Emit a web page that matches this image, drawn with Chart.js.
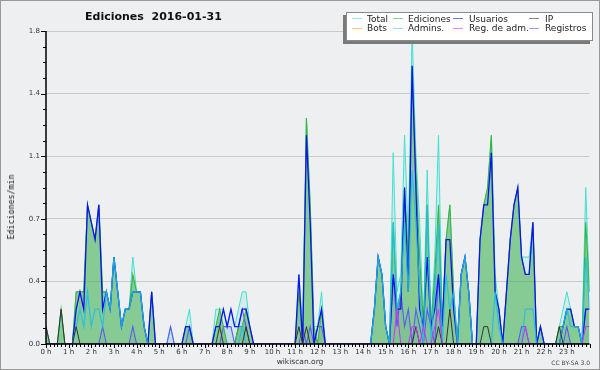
<!DOCTYPE html>
<html>
<head>
<meta charset="utf-8">
<script src="https://cdn.jsdelivr.net/npm/chart.js@4.4.0/dist/chart.umd.min.js"></script>
<style>
  body { margin: 0; }
  #wrap { position: relative; width: 600px; height: 370px; background: #edeff1; overflow: hidden; font-family: "DejaVu Sans", sans-serif; }
  #chart { position: absolute; left: 0; top: 0; }
  .txt { position: absolute; white-space: pre; line-height: normal; }
  #title { left: 85px; top: 10.4px; font-size: 11px; font-weight: bold; color: #111; }
  #ytitle { left: 11px; top: 207px; font-family: "DejaVu Sans Mono", monospace; font-size: 8.3px; color: #111; transform: translate(-50%, -50%) rotate(-90deg); }
  #site { left: 300px; top: 357.3px; font-size: 7.5px; color: #333; transform: translateX(-50%); }
  #licence { right: 10px; top: 358.7px; font-size: 6px; color: #444; }
  #legendBox { position: absolute; left: 346px; top: 12px; width: 245px; height: 27px; background: #fff; border: 1px solid #8a8a8a; box-shadow: -3px 3px 0 #7a7a7a; }
  .lg { position: absolute; font-size: 9px; color: #222; white-space: pre; line-height: normal; }
  .sw { position: absolute; width: 10px; height: 1px; opacity: 0.6; }
  #frame { position: absolute; left: 0; top: 0; right: 0; bottom: 0; border: 1px solid #9a9a9a; pointer-events: none; }
</style>
</head>
<body>
<div id="wrap">
  <canvas id="chart" width="600" height="370"></canvas>
  <div class="txt" id="title">Ediciones  2016-01-31</div>
  <div class="txt" id="ytitle">Ediciones/min</div>
  <div class="txt" id="site">wikiscan.org</div>
  <div class="txt" id="licence">CC BY-SA 3.0</div>
  <div id="legendBox"></div>
  <div id="frame"></div>
</div>
<script>
// 10-minute bins, 0 h .. 24 h (145 points), edits per minute
const hourLabels = ["0 h","1 h","2 h","3 h","4 h","5 h","6 h","7 h","8 h","9 h","10 h","11 h",
  "12 h","13 h","14 h","15 h","16 h","17 h","18 h","19 h","20 h","21 h","22 h","23 h"];
const yTickValues = [0, 0.36, 0.72, 1.08, 1.44, 1.8];
const yTickLabels = ["0.0", "0.4", "0.7", "1.1", "1.4", "1.8"];

const total = [
  .1,0,0,0,.2,0,  0,0,.3,.3,.3,.8,  .7,.6,.8,.3,.3,.2,  .5,.3,.1,.2,.2,.5,
  .3,.3,.1,0,.3,0,  0,0,0,.1,0,0,  0,.1,.2,0,0,0,  0,0,0,.2,.2,.2,
  .1,.2,.1,.2,.3,.3,  .1,0,0,0,0,0,  0,0,0,0,0,0,  0,.4,.1,1.3,.8,.1,
  .1,.3,0,0,0,0,  0,0,0,0,0,0,  0,0,0,.2,.5,.4,  .1,0,1.1,.3,.4,1.2,
  .6,1.8,1.1,.7,.1,1.0,  .1,.5,1.2,.1,.6,.8,  .3,0,.4,.5,.3,0,  0,.6,.8,.9,1.2,.4,
  .2,0,.3,.6,.8,.9,  .5,.5,.5,.7,0,.1,  0,0,0,0,.1,.2,  .3,.2,.1,.1,0,.9,
  .3
];
const ediciones = [
  .1,0,0,0,.2,0,  0,0,.3,.3,.3,.8,  .7,.6,.8,.3,.3,.2,  .5,.3,.1,.2,.2,.4,
  .3,.3,.1,0,.3,0,  0,0,0,0,0,0,  0,.1,.1,0,0,0,  0,0,0,.1,.2,.1,
  0,0,0,.1,.1,.2,  .1,0,0,0,0,0,  0,0,0,0,0,0,  0,.3,0,1.3,.8,.1,
  0,.2,0,0,0,0,  0,0,0,0,0,0,  0,0,0,.2,.5,.4,  .1,0,.7,.2,.3,.9,
  .5,1.6,1.0,.5,.1,.8,  .1,.4,.8,.1,.6,.8,  .3,0,.4,.5,.3,0,  0,.6,.8,.9,1.2,.3,
  .2,0,.3,.6,.8,.9,  .5,.4,.4,.7,0,.1,  0,0,0,0,.1,.1,  .2,.2,.1,.1,0,.7,
  .3
];
const usuarios = [
  0,0,0,0,0,0,  0,0,.2,.3,.2,.8,  .7,.6,.8,.2,.3,.2,  .5,.3,.1,.2,.2,.3,
  .3,.3,.1,0,.3,0,  0,0,0,0,0,0,  0,.1,.1,0,0,0,  0,0,0,.1,.1,.2,
  .1,.2,.1,.1,.2,.2,  .1,0,0,0,0,0,  0,0,0,0,0,0,  0,.4,0,1.2,.7,0,
  .1,.2,0,0,0,0,  0,0,0,0,0,0,  0,0,0,.2,.5,.4,  .1,0,.4,.2,.2,.9,
  .3,1.6,.9,.2,.1,.5,  .1,.2,.4,.1,.6,.6,  .2,0,.4,.5,.3,0,  0,.6,.8,.8,1.1,.3,
  .2,0,.3,.6,.8,.9,  .5,.4,.4,.7,0,.1,  0,0,0,0,0,.1,  .2,.2,.1,.1,0,.2,
  .2
];
const ip = [
  .1,0,0,0,.2,0,  0,0,.1,0,0,0,  0,0,0,0,0,0,  0,0,0,0,0,0,
  0,0,0,0,0,0,  0,0,0,0,0,0,  0,0,0,0,0,0,  0,0,0,0,.1,0,
  0,0,0,0,0,.1,  0,0,0,0,0,0,  0,0,0,0,0,0,  0,.1,0,.1,0,0,
  0,0,0,0,0,0,  0,0,0,0,0,0,  0,0,0,0,0,0,  0,0,0,0,0,0,
  0,0,.1,0,0,0,  0,0,.1,0,0,.2,  0,0,0,0,0,0,  0,0,.1,.1,0,0,
  0,0,0,0,0,0,  0,0,0,0,0,0,  0,0,0,0,.1,0,  0,0,0,0,0,0,
  0
];
const bots = [
  0,0,0,0,0,0,  0,0,0,0,0,0,  0,0,0,0,0,0,  0,0,0,0,0,0,
  0,0,0,0,0,0,  0,0,0,0,0,0,  0,0,0,0,0,0,  0,0,0,0,0,0,
  0,0,0,0,0,0,  0,0,0,0,0,0,  0,0,0,0,0,0,  0,0,0,0,0,0,
  0,0,0,0,0,0,  0,0,0,0,0,0,  0,0,0,0,0,0,  0,0,0,0,0,0,
  0,0,0,0,0,0,  0,0,0,0,0,0,  0,0,0,0,0,0,  0,0,0,0,0,0,
  0,0,0,0,0,0,  0,0,0,0,0,0,  0,0,0,0,0,0,  0,0,0,0,0,0,
  0
];
const admins = [
  0,0,0,0,0,0,  0,0,.1,.2,.1,.3,  .1,.2,.2,.1,.3,.2,  .5,.3,.1,.2,.2,.3,
  .3,.3,.1,0,0,0,  0,0,0,0,0,0,  0,0,0,0,0,0,  0,0,0,0,0,0,
  0,0,0,0,.1,0,  0,0,0,0,0,0,  0,0,0,0,0,0,  0,0,0,0,0,0,
  0,0,0,0,0,0,  0,0,0,0,0,0,  0,0,0,.2,.5,.4,  .1,0,.7,.2,.3,.7,
  .3,1.0,.7,.3,0,.8,  0,.3,.7,0,.4,.2,  .3,0,.4,.5,.3,0,  0,0,0,0,0,.3,
  .1,0,0,0,0,0,  0,.2,.2,.2,0,0,  0,0,0,0,0,.1,  .2,.1,.1,.1,0,.5,
  .2
];
const regAdm = [
  0,0,0,0,0,0,  0,0,0,0,0,0,  0,0,0,0,0,0,  0,0,0,0,0,0,
  0,0,0,0,0,0,  0,0,0,0,0,0,  0,0,0,0,0,0,  0,0,0,0,0,0,
  0,0,0,0,0,0,  0,0,0,0,0,0,  0,0,0,0,0,0,  0,0,0,0,0,0,
  0,0,0,0,0,0,  0,0,0,0,0,0,  0,0,0,0,0,0,  0,0,0,.2,0,0,
  0,.1,.1,0,.1,0,  0,.1,.2,0,0,0,  0,0,0,0,0,0,  0,0,0,0,0,0,
  0,0,0,0,0,0,  0,.1,0,0,0,0,  0,0,0,0,0,0,  0,0,0,0,0,.1,
  .1
];
const registros = [
  0,0,0,0,0,0,  0,0,0,0,0,0,  0,0,0,.1,0,0,  0,0,0,0,0,.1,
  0,0,0,0,0,0,  0,0,0,.1,0,0,  0,0,.1,0,0,0,  0,0,0,0,0,.1,
  .1,.1,0,.1,.2,.1,  0,0,0,0,0,0,  0,0,0,0,0,0,  0,0,.1,0,.1,0,
  .1,.1,0,0,0,0,  0,0,0,0,0,0,  0,0,0,0,0,0,  0,0,.4,.1,.3,.1,
  .2,0,.2,.1,0,.2,  .1,0,.4,0,0,0,  0,0,0,0,0,0,  0,0,0,0,0,0,
  0,0,0,0,0,0,  .1,.1,0,0,0,0,  0,0,0,0,0,0,  .1,0,0,0,0,.2,
  .2
];

// legend order: row 1 then row 2
const series = [
  { label: "Total", values: total, color: "#40e0d0", width: 1, fill: "rgba(64,224,208,0.16)", order: 8 },
  { label: "Ediciones", values: ediciones, color: "#3cb43c", width: 1.1, fill: "rgba(60,170,60,0.5)", order: 5 },
  { label: "Usuarios", values: usuarios, color: "#1010f0", width: 1.3, order: 4 },
  { label: "IP", values: ip, color: "#333333", width: 1, order: 2 },
  { label: "Bots", values: bots, color: "#ff9922", width: 1, order: 7 },
  { label: "Admins.", values: admins, color: "rgba(30,190,228,0.85)", width: 1.3, order: 3 },
  { label: "Reg. de adm.", values: regAdm, color: "#cc33ee", width: 1, order: 1 },
  { label: "Registros", values: registros, color: "#5a5af0", width: 1.1, fill: "rgba(100,120,230,0.13)", order: 6 }
];

// HTML legend
const legendCols = [352, 393, 453, 529];
const legendTextX = [367, 408, 469, 545];
const legendRows = [18, 28];
const legendTextTop = [13.6, 23.1];
const wrap = document.getElementById("wrap");
series.forEach((s, k) => {
  const col = k % 4, row = Math.floor(k / 4);
  const sw = document.createElement("div");
  sw.className = "sw";
  sw.style.left = legendCols[col] + "px";
  sw.style.top = legendRows[row] + "px";
  sw.style.background = s.color;
  wrap.appendChild(sw);
  const t = document.createElement("div");
  t.className = "lg";
  t.textContent = s.label;
  t.style.left = legendTextX[col] + "px";
  t.style.top = legendTextTop[row] + "px";
  wrap.appendChild(t);
});

// axis lines and tick marks drawn over the data, like the original
const axesPlugin = {
  id: "axes",
  afterDatasetsDraw(chart) {
    const { ctx, chartArea: a, scales: { x, y } } = chart;
    ctx.save();
    ctx.strokeStyle = "#000";
    ctx.lineWidth = 1;
    ctx.beginPath();
    for (let k = 0; k <= 20; k++) {
      const py = Math.round(y.getPixelForValue(k * 0.09)) + 0.5;
      const len = k % 4 === 0 ? 5 : 3;
      ctx.moveTo(a.left - len, py);
      ctx.lineTo(a.left, py);
    }
    for (let m = 0; m <= 144; m++) {
      const px = Math.round(x.getPixelForValue(m / 6)) + 0.5;
      ctx.moveTo(px, a.bottom);
      ctx.lineTo(px, a.bottom + (m % 6 === 0 ? 4 : 3));
    }
    ctx.stroke();
    ctx.lineWidth = 1.5;
    ctx.beginPath();
    ctx.moveTo(a.left, a.top);
    ctx.lineTo(a.left, a.bottom);
    ctx.lineTo(a.right, a.bottom);
    ctx.stroke();
    ctx.restore();
  }
};

const tickFont = { family: "DejaVu Sans", size: 7 };

new Chart(document.getElementById("chart"), {
  type: "line",
  data: {
    datasets: series.map(s => ({
      label: s.label,
      data: s.values.map((v, i) => ({ x: i / 6, y: v })),
      borderColor: s.color,
      borderWidth: s.width,
      backgroundColor: s.fill || "transparent",
      fill: s.fill ? "origin" : false,
      pointRadius: 0,
      tension: 0,
      order: s.order,
      clip: 0
    }))
  },
  options: {
    responsive: false,
    animation: false,
    events: [],
    layout: { padding: { top: 31, right: 10.5, left: 0, bottom: 0 } },
    plugins: {
      legend: { display: false },
      tooltip: { enabled: false },
      filler: { drawTime: "beforeDatasetsDraw" }
    },
    scales: {
      x: {
        type: "linear", min: 0, max: 24,
        afterFit: s => { s.height = 26; },
        afterBuildTicks: s => { s.ticks = hourLabels.map((_, h) => ({ value: h })); },
        grid: { display: false, drawTicks: false },
        border: { display: false },
        ticks: { autoSkip: false, maxRotation: 0, padding: 4, color: "#333", font: tickFont,
                 callback: (v, idx) => hourLabels[idx] }
      },
      y: {
        min: 0, max: 1.8,
        afterFit: s => { s.width = 46; },
        afterBuildTicks: s => { s.ticks = yTickValues.map(v => ({ value: v })); },
        grid: { color: "#c9c9c9", drawTicks: false },
        border: { display: false },
        ticks: { padding: 6, color: "#333", font: tickFont,
                 callback: (v, idx) => yTickLabels[idx] }
      }
    }
  },
  plugins: [axesPlugin]
});
</script>
</body>
</html>
